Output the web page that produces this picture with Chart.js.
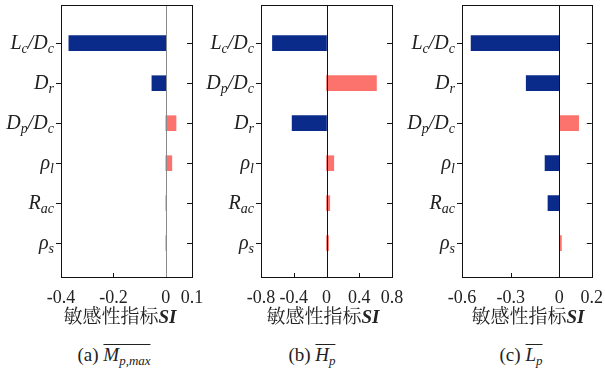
<!DOCTYPE html>
<html>
<head>
<meta charset="utf-8">
<script src="https://cdn.jsdelivr.net/npm/chart.js@4"></script>
<style>
  body { margin: 0; width: 605px; height: 370px; background: #fff; position: relative; overflow: hidden; color: #222; }
  canvas { position: absolute; top: 0; }
  .xt { position: absolute; top: 302px; transform: translateX(-50%); white-space: nowrap;
        font-family: "Noto Serif CJK SC", "Noto Sans CJK SC", serif; font-size: 19px; line-height: 26px; }
  .xt b { font-family: "Liberation Serif", serif; font-style: italic; font-size: 19px; }
  .cap { position: absolute; top: 342px; transform: translateX(-50%); white-space: nowrap;
         font-family: "Liberation Serif", serif; font-size: 19px; line-height: 26px; }
  .ol { display: inline-block; border-top: 1px solid #222; line-height: 18px; padding-top: 1px; }
  .ol i { font-size: 19px; }
  .ol sub { font-style: italic; font-size: 13px; vertical-align: -4px; line-height: 0; }
</style>
</head>
<body>
<canvas id="chart-a" width="213" height="305" style="left:0px"></canvas>
<canvas id="chart-b" width="213" height="305" style="left:200px"></canvas>
<canvas id="chart-c" width="205" height="305" style="left:400px"></canvas>

<div class="xt" style="left:120px">敏感性指标<b>SI</b></div>
<div class="xt" style="left:323px">敏感性指标<b>SI</b></div>
<div class="xt" style="left:528px">敏感性指标<b>SI</b></div>

<div class="cap" style="left:114px">(a) <span class="ol"><i>M</i><sub>p,max</sub></span></div>
<div class="cap" style="left:312px">(b) <span class="ol"><i>H</i><sub>p</sub></span></div>
<div class="cap" style="left:521px">(c) <span class="ol"><i>L</i><sub>p</sub></span></div>

<script>
// parameters (top to bottom), "_" starts a subscript
const labelsA = ["L_c/D_c", "D_r", "D_p/D_c", "ρ_l", "R_ac", "ρ_s"];
const labelsB = ["L_c/D_c", "D_p/D_c", "D_r", "ρ_l", "R_ac", "ρ_s"];
const labelsC = ["L_c/D_c", "D_r", "D_p/D_c", "ρ_l", "R_ac", "ρ_s"];

// sensitivity index SI
const valuesA = [-0.37, -0.053, 0.039, 0.023, 0.003, 0.002];
const valuesB = [-0.66, 0.61, -0.42, 0.089, 0.04, 0.025];
const valuesC = [-0.544, -0.204, 0.119, -0.088, -0.07, 0.013];

// x ticks
const ticksA = [-0.4, -0.2, 0, 0.1];
const ticksB = [-0.8, -0.4, 0, 0.4, 0.8];
const ticksC = [-0.6, -0.3, 0, 0.2];

const NEG = "#0b2b8b";
const POS = "#fb736c";
const SERIF = "Liberation Serif";

function parseLabel(s) {
  const parts = [];
  let i = 0;
  while (i < s.length) {
    if (s[i] === "_") {
      let j = i + 1;
      let sub = "";
      while (j < s.length && s[j] !== "/") { sub += s[j]; j++; }
      parts.push({ t: sub, sub: true });
      i = j;
    } else {
      parts.push({ t: s[i], sub: false });
      i++;
    }
  }
  return parts;
}

// frame, ticks, zero line and the math labels on the left
const framePlugin = {
  id: "frame",
  afterDatasetsDraw(chart, args, opts) {
    const { ctx, chartArea: a, scales } = chart;
    const x = scales.x, y = scales.y;
    ctx.save();
    // zero line
    const x0 = Math.round(x.getPixelForValue(0)) + 0.5;
    ctx.strokeStyle = opts.zeroColor;
    ctx.lineWidth = 1;
    ctx.beginPath();
    ctx.moveTo(x0, a.top);
    ctx.lineTo(x0, a.bottom);
    ctx.stroke();

    ctx.strokeStyle = "#111";
    ctx.strokeRect(Math.round(a.left) + 0.5, Math.round(a.top) + 0.5,
      Math.round(a.right - a.left), Math.round(a.bottom - a.top));

    ctx.beginPath();
    opts.labels.forEach((lab, i) => {
      const py = Math.round(y.getPixelForValue(i)) + 0.5;
      ctx.moveTo(a.left - 5, py);
      ctx.lineTo(a.left, py);
      ctx.moveTo(a.right - 5, py);
      ctx.lineTo(a.right, py);
    });
    x.ticks.forEach((t) => {
      if (t.value === x.min || t.value === x.max || t.value === 0) return;
      const px = Math.round(x.getPixelForValue(t.value)) + 0.5;
      ctx.moveTo(px, a.bottom);
      ctx.lineTo(px, a.bottom - 4);
    });
    ctx.stroke();

    // y labels
    ctx.fillStyle = "#222";
    ctx.textBaseline = "alphabetic";
    ctx.textAlign = "left";
    const mainFont = "italic 20px '" + SERIF + "'";
    const subFont = "italic 14px '" + SERIF + "'";
    opts.labels.forEach((lab, i) => {
      const parts = parseLabel(lab);
      let w = 0;
      parts.forEach((p) => {
        ctx.font = p.sub ? subFont : mainFont;
        p.w = ctx.measureText(p.t).width;
        w += p.w;
      });
      let px = a.left - 7 - w;
      const py = y.getPixelForValue(i) + 6;
      parts.forEach((p) => {
        ctx.font = p.sub ? subFont : mainFont;
        ctx.fillText(p.t, px, p.sub ? py + 4 : py);
        px += p.w;
      });
    });
    ctx.restore();
  },
};

function makeChart(id, labels, values, ticks, padRight, yWidth, zeroColor) {
  const ctx = document.getElementById(id).getContext("2d");
  return new Chart(ctx, {
    type: "bar",
    data: {
      datasets: [
        {
          data: values.map((v, i) => ({ x: v, y: i })),
          backgroundColor: values.map((v) => (v < 0 ? NEG : POS)),
          barThickness: 15,
        },
      ],
    },
    options: {
      responsive: false,
      animation: false,
      indexAxis: "y",
      layout: { padding: { top: 5, right: padRight, left: 0, bottom: 0 } },
      plugins: {
        legend: { display: false },
        tooltip: { enabled: false },
        frame: { labels, zeroColor },
      },
      scales: {
        x: {
          type: "linear",
          min: ticks[0],
          max: ticks[ticks.length - 1],
          afterBuildTicks: (s) => { s.ticks = ticks.map((v) => ({ value: v })); },
          afterFit: (s) => { s.height = 28; },
          grid: { display: false },
          border: { display: false },
          ticks: {
            color: "#222",
            padding: 2,
            maxRotation: 0,
            font: { family: SERIF, size: 18 },
            callback: (v) => (v === 0 ? "0" : String(v)),
          },
        },
        y: {
          type: "linear",
          reverse: true,
          min: -0.53,
          max: 5.42,
          afterFit: (s) => { s.width = yWidth; },
          grid: { display: false },
          border: { display: false },
          ticks: { display: false },
        },
      },
    },
    plugins: [framePlugin],
  });
}

function drawAll() {
  makeChart("chart-a", labelsA, valuesA, ticksA, 21, 61, "#8a8a8a");
  makeChart("chart-b", labelsB, valuesB, ticksB, 21, 61, "#111");
  makeChart("chart-c", labelsC, valuesC, ticksC, 12, 62, "#111");
}

Promise.all([
  document.fonts.load("18px 'Liberation Serif'"),
  document.fonts.load("italic 20px 'Liberation Serif'"),
]).then(drawAll, drawAll);
</script>
</body>
</html>
